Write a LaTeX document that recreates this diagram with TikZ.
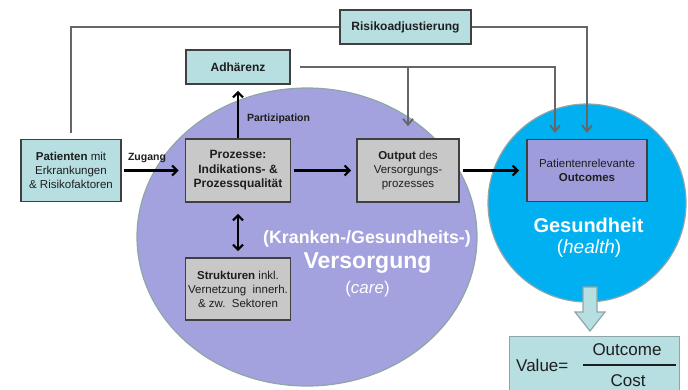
\documentclass[tikz,border=0pt]{standalone}
\usepackage{fontspec}
\setmainfont{Liberation Sans}
\usetikzlibrary{arrows.meta}

\definecolor{boxblue}{HTML}{B7DEE1}
\definecolor{boxgray}{HTML}{C8C8C8}
\definecolor{boxline}{HTML}{404040}
\definecolor{feedgray}{HTML}{666666}
\definecolor{carepurple}{HTML}{A3A1DE}
\definecolor{outcpurple}{HTML}{9F9CDC}
\definecolor{healthblue}{HTML}{00B0F0}
\definecolor{rimgray}{HTML}{8FA6A8}
\definecolor{textdark}{HTML}{1E1E1E}

\begin{document}
\begin{tikzpicture}[x=1pt,y=-1pt,
  box/.style={draw=boxline, line width=1.6pt, inner sep=0pt, align=center,
    text=textdark, font=\fontsize{11.5}{14}\selectfont},
  lightbox/.style={box, fill=boxblue},
  graybox/.style={box, fill=boxgray},
  titlebox/.style={lightbox, font=\fontsize{12}{14}\selectfont\bfseries},
  feedline/.style={draw=feedgray, line width=1.8pt},
  feedarrow/.style={feedline, -{Straight Barb[length=6pt,width=10pt]}},
  flow/.style={draw=black, line width=2.2pt, -{Straight Barb[length=5pt,width=10pt]}},
  flowboth/.style={draw=black, line width=2.2pt,
    {Straight Barb[length=5pt,width=10pt]}-{Straight Barb[length=5pt,width=10pt]}},
  smalllabel/.style={font=\fontsize{10.5}{12}\selectfont\bfseries, text=textdark, inner sep=0pt},
  whitetext/.style={text=white, inner sep=0pt, align=center}
]
\useasboundingbox (0,0) rectangle (688,389);
\clip (0,0) rectangle (688,389);

% care and health areas
\draw[fill=carepurple, draw=rimgray, line width=1.2pt] (307,237) ellipse [x radius=170, y radius=149];
\draw[fill=healthblue, draw=rimgray, line width=1.2pt] (587,203) circle [radius=99];

% boxes
\node[titlebox, minimum width=131, minimum height=34] (risk) at (405.5,27) {Risikoadjustierung};
\node[titlebox, minimum width=104, minimum height=34] (adh) at (238,67) {Adhärenz};
\node[lightbox, minimum width=100, minimum height=62] (pat) at (71,170.5)
  {\textbf{Patienten} mit\\Erkrankungen\\\& Risikofaktoren};
\node[graybox, minimum width=105, minimum height=63, font=\fontsize{12}{14.5}\selectfont\bfseries] (proz) at (238,170.5)
  {Prozesse:\\Indikations- \&\\Prozessqualität};
\node[graybox, minimum width=102, minimum height=63] (outp) at (408,170.5)
  {\textbf{Output} des\\Versorgungs-\\prozesses};
\node[box, fill=outcpurple, minimum width=120, minimum height=62] (outc) at (587,170.5)
  {Patientenrelevante\\\textbf{Outcomes}};
\node[graybox, minimum width=105, minimum height=62] (struk) at (238,289)
  {\textbf{Strukturen} inkl.\\Vernetzung\ \ innerh.\\\& zw.\ \ Sektoren};

% feedback lines
\draw[feedline] (risk.west) -| ([yshift=6pt]pat.north);
\draw[feedarrow] (risk.east) -| ([yshift=6pt]outc.north);
\coordinate (adhout) at ([xshift=9pt]adh.east);
\draw[feedarrow] (adhout) -| ([xshift=-32pt,yshift=6pt]outc.north);
\draw[feedarrow] (outp.north |- adhout) -- ([yshift=12pt]outp.north);

% process flow
\draw[flow, shorten <=2pt, shorten >=6pt] (pat.east) -- (proz.west);
\draw[flow, shorten >=6pt] (proz.north) -- (adh.south);
\draw[flow, shorten <=3pt, shorten >=5pt] (proz.east) -- (outp.west);
\draw[flow, shorten <=3pt, shorten >=7pt] (outp.east) -- (outc.west);
\draw[flowboth, shorten <=11pt, shorten >=6pt] (proz.south) -- (struk.north);

\node[smalllabel] (zugang) at (147,158) {Zugang};
\node[smalllabel] (partiz) at (278.5,119) {Partizipation};

% area titles
\node[whitetext, font=\fontsize{17.8}{20}\selectfont\bfseries] (kranken) at (367,239) {(Kranken-/Gesundheits-)};
\node[whitetext, font=\fontsize{23}{26}\selectfont\bfseries] (versorgung) at (367.5,263) {Versorgung};
\node[whitetext, font=\fontsize{17}{20}\selectfont] (care) at (367.5,289) {(\textit{care})};
\node[whitetext, font=\fontsize{20}{24}\selectfont\bfseries] (gesund) at (588.5,225) {Gesundheit};
\node[whitetext, font=\fontsize{19}{22}\selectfont] (health) at (589,249) {(\textit{health})};

% value definition
\node[draw=rimgray, line width=1.4pt, fill=boxblue, minimum width=170, minimum height=64,
  anchor=north west, inner sep=0pt] (value) at (509,336) {};
\draw[draw=rimgray, line width=1.2pt, fill=boxblue]
  (583,287) -- (597,287) -- (597,312) -- (605,312) -- (590,331) -- (575,312) -- (583,312) -- cycle;
\node[anchor=west, inner sep=0pt, text=textdark, font=\fontsize{17}{20}\selectfont] (vlabel) at (516,365) {Value=};
\coordinate (fracl) at (583,365);
\coordinate (fracr) at (676,365);
\draw[line width=1.5pt, textdark] (fracl) -- (fracr);
\node[inner sep=0pt, text=textdark, font=\fontsize{17}{20}\selectfont] (numer) at (627,350) {Outcome};
\node[inner sep=0pt, text=textdark, font=\fontsize{17}{20}\selectfont] (denom) at (628,381) {Cost};
\end{tikzpicture}
\end{document}
